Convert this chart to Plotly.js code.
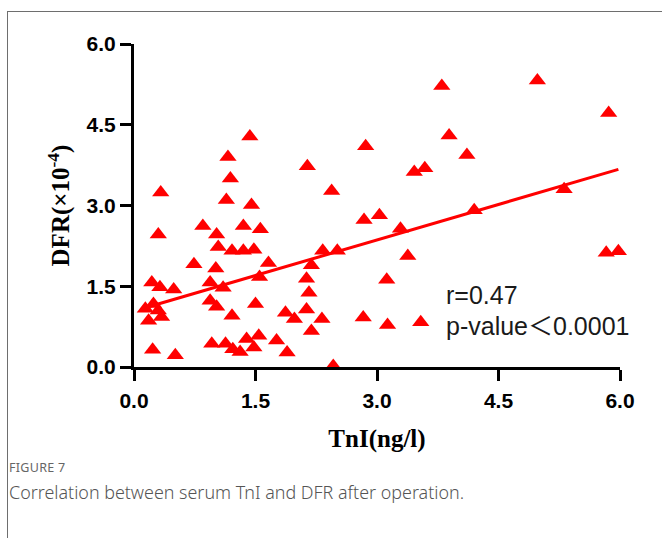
<!DOCTYPE html>
<html>
<head>
<meta charset="utf-8">
<script src="https://cdn.plot.ly/plotly-3.0.1.min.js"></script>
<style>
  html, body { margin: 0; padding: 0; background: #fff; width: 662px; height: 538px; overflow: hidden; }
  #frame { position: absolute; left: 7px; top: 11px; width: 700px; height: 600px; border-left: 1px solid #6e6e6e; border-top: 1px solid #6e6e6e; }
  #chart { position: absolute; left: 0; top: 0; width: 662px; height: 538px; }
  #figlabel { position: absolute; left: 9px; top: 459px; font-family: "Noto Sans", sans-serif; font-size: 12.5px; line-height: 18px; color: #666; letter-spacing: 0.3px; }
  #figcap { position: absolute; left: 9px; top: 480px; font-family: "Noto Sans", sans-serif; font-size: 17.9px; line-height: 24px; color: #555; font-weight: 300; }
</style>
</head>
<body>
<div id="frame"></div>
<div id="chart"></div>
<div id="figlabel">FIGURE 7</div>
<div id="figcap">Correlation between serum TnI and DFR after operation.</div>
<script>
// ---- data ----
const tnI = [
  0.14, 0.24, 0.30, 0.18, 0.34, 0.22, 0.32, 0.49, 0.23, 0.51, 0.30, 0.33,
  0.85, 1.02, 1.04, 1.21, 1.35, 1.48, 1.14, 1.19, 1.16, 1.43, 1.45, 1.35, 1.56,
  0.74, 1.01, 0.94, 1.10, 1.55, 1.66, 0.94, 1.02, 1.21, 1.50, 0.96, 1.13, 1.22,
  1.31, 1.39, 1.48, 1.54, 1.76, 1.89,
  1.87, 1.98, 2.13, 2.32, 2.19, 2.13, 2.16, 2.19, 2.33, 2.51, 2.14, 2.44, 2.86,
  2.84, 3.03, 2.46, 2.83,
  3.12, 3.13, 3.54, 3.29, 3.38, 3.46, 3.59, 3.80, 3.89, 4.11, 4.20, 4.98, 5.31,
  5.86, 5.83, 5.98
];
const dfr = [
  1.08, 1.17, 1.05, 0.86, 0.93, 1.57, 1.48, 1.44, 0.32, 0.22, 2.46, 3.24,
  2.62, 2.46, 2.23, 2.16, 2.16, 2.18, 3.10, 3.50, 3.90, 4.28, 3.01, 2.62, 2.56,
  1.91, 1.83, 1.57, 1.47, 1.67, 1.93, 1.23, 1.12, 0.95, 1.17, 0.43, 0.43, 0.33,
  0.28, 0.52, 0.36, 0.58, 0.49, 0.27,
  1.01, 0.89, 1.07, 0.89, 0.67, 1.64, 1.38, 1.89, 2.16, 2.16, 3.73, 3.27, 4.10,
  2.73, 2.82, 0.02, 0.92,
  1.62, 0.78, 0.83, 2.57, 2.06, 3.62, 3.69, 5.22, 4.30, 3.94, 2.91, 5.32, 3.30,
  4.72, 2.12, 2.15
];
// regression line parameters
const fitSlope = 0.44;
const fitIntercept = 1.04;
// ticks
const xTickVals = [0, 1.5, 3, 4.5, 6];
const xTickText = ["0.0", "1.5", "3.0", "4.5", "6.0"];
const yTickVals = [0, 1.5, 3, 4.5, 6];
const yTickText = ["0.0", "1.5", "3.0", "4.5", "6.0"];
// texts
const statR = "r=0.47";
const statP = "p-value\uFF1C0.0001";

const fitX = [Math.min(...tnI), Math.max(...tnI)];
const fitY = fitX.map(v => fitIntercept + fitSlope * v);

const red = "#ff0000";
const tickFont = { family: "Liberation Sans, Arial, sans-serif", size: 21, color: "#000", weight: "bold" };
const titleFont = { family: "Liberation Serif, Times New Roman, serif", size: 25, color: "#000", weight: "bold" };

const traces = [
  {
    x: fitX, y: fitY, type: "scatter", mode: "lines",
    line: { color: red, width: 3 }, hoverinfo: "skip", cliponaxis: false
  },
  {
    x: tnI, y: dfr, type: "scatter", mode: "markers",
    marker: { symbol: "triangle-up", size: 15, color: red, line: { width: 0 } },
    cliponaxis: false
  }
];

const layout = {
  width: 662, height: 538,
  margin: { l: 134, r: 42, t: 44, b: 171 },
  paper_bgcolor: "rgba(0,0,0,0)",
  plot_bgcolor: "rgba(0,0,0,0)",
  showlegend: false,
  xaxis: {
    range: [0, 6], tickvals: xTickVals, ticktext: xTickText,
    ticks: "outside", ticklen: 11, tickwidth: 3, tickcolor: "#000",
    showline: true, linewidth: 3, linecolor: "#000",
    showgrid: false, zeroline: false, tickfont: tickFont,
    ticklabelstandoff: 2,
    automargin: false,
    title: { text: "TnI(ng/l)", font: titleFont, standoff: 19 }
  },
  yaxis: {
    range: [0, 6], tickvals: yTickVals, ticktext: yTickText,
    ticks: "outside", ticklen: 11, tickwidth: 3, tickcolor: "#000",
    showline: true, linewidth: 3, linecolor: "#000",
    showgrid: false, zeroline: false, tickfont: tickFont,
    automargin: false,
    title: { text: "DFR(\u00D710<sup>-4</sup>)", font: titleFont, standoff: 10 }
  },
  annotations: [
    { x: 3.83, y: 1.33, xref: "x", yref: "y", text: statR, showarrow: false,
      xanchor: "left", yanchor: "middle",
      font: { family: "Liberation Sans, Arial, sans-serif", size: 25, color: "#1a1a1a" } },
    { x: 3.83, y: 0.76, xref: "x", yref: "y", text: statP, showarrow: false,
      xanchor: "left", yanchor: "middle",
      font: { family: "Liberation Sans, Arial, 'Noto Sans CJK SC', sans-serif", size: 25, color: "#1a1a1a" } }
  ]
};

Plotly.newPlot("chart", traces, layout, { displayModeBar: false, staticPlot: true });
</script>
</body>
</html>
